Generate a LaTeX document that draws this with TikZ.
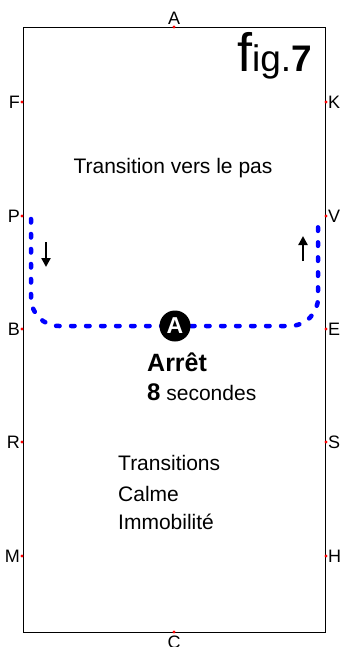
\documentclass[tikz,border=0pt]{standalone}
\usepackage{fontspec}
\setmainfont{Liberation Sans}
\usetikzlibrary{arrows.meta}

\tikzset{
  lettre/.style={font=\fontsize{18}{18}\selectfont, inner sep=1.5pt},
  repere/.style={inner sep=0, outer sep=0},
  chemin/.style={blue, line width=4.5pt, dash pattern=on 3.5pt off 11.5pt,
    line cap=round, rounded corners=28pt},
  fleche/.style={line width=2.8pt, -{Triangle[length=9pt,width=9pt]}},
  cercle/.style={circle, fill=black, text=white, inner sep=0, minimum size=31pt,
    font=\bfseries\fontsize{23}{23}\selectfont},
  texte/.style={inner sep=0, font=\fontsize{21}{21}\selectfont}
}

\begin{document}
\begin{tikzpicture}[x=1pt,y=-1pt]
  \useasboundingbox (0,0) rectangle (342,647);

  % carriere
  \draw [line width=0.9pt] (23,27) rectangle (325,632);

  % lettres
  \node [repere, label={[lettre]90:A}] (A) at (174,27) {};
  \fill [red] (A) circle (1.6pt);
  \node [repere, label={[lettre, label distance=2pt]270:C}] (C) at (174,632) {};
  \fill [red] (C) circle (1.6pt);

  \node [repere, label={[lettre]180:F}] (F) at (22,102) {};
  \fill [red] (F) circle (1.6pt);
  \node [repere, label={[lettre]180:P}] (P) at (22,216) {};
  \fill [red] (P) circle (1.6pt);
  \node [repere, label={[lettre]180:B}] (B) at (22,329) {};
  \fill [red] (B) circle (1.6pt);
  \node [repere, label={[lettre]180:R}] (R) at (22,442) {};
  \fill [red] (R) circle (1.6pt);
  \node [repere, label={[lettre]180:M}] (M) at (22,556) {};
  \fill [red] (M) circle (1.6pt);

  \node [repere, label={[lettre]0:K}] (K) at (326,102) {};
  \fill [red] (K) circle (1.6pt);
  \node [repere, label={[lettre]0:V}] (V) at (326,216) {};
  \fill [red] (V) circle (1.6pt);
  \node [repere, label={[lettre]0:E}] (E) at (326,329) {};
  \fill [red] (E) circle (1.6pt);
  \node [repere, label={[lettre]0:S}] (S) at (326,442) {};
  \fill [red] (S) circle (1.6pt);
  \node [repere, label={[lettre]0:H}] (H) at (326,556) {};
  \fill [red] (H) circle (1.6pt);

  % titre de la figure
  \node [inner sep=0, anchor=base east] (fig) at (312,72)
    {{\fontsize{54}{54}\selectfont f}{\fontsize{37}{37}\selectfont ig.\textbf{7}}};

  % trace
  \coordinate (depart) at (31,219);
  \coordinate (arrivee) at (318,219);
  \coordinate (milieu) at (175,326);
  \draw [chemin] (depart) |- (milieu) -| (arrivee);
  \node [cercle] (arret) at (milieu) {A};

  % sens
  \coordinate (f1a) at (46,242);
  \coordinate (f1b) at (46,267);
  \draw [fleche] (f1a) -- (f1b);
  \coordinate (f2a) at (303,261);
  \coordinate (f2b) at (303,236);
  \draw [fleche] (f2a) -- (f2b);

  % textes
  \node [texte, anchor=base] (titre) at (173,173) {Transition vers le pas};
  \node [inner sep=0, anchor=base west, font=\bfseries\fontsize{25}{25}\selectfont]
    (arrettxt) at (147,371) {Arrêt};
  \node [texte, anchor=base west] (duree) at (147,400)
    {{\bfseries\fontsize{24}{24}\selectfont 8} secondes};
  \node [texte, anchor=base west] (t1) at (118,470) {Transitions};
  \node [texte, anchor=base west] (t2) at (118,501) {Calme};
  \node [texte, anchor=base west] (t3) at (118,529) {Immobilité};
\end{tikzpicture}
\end{document}
